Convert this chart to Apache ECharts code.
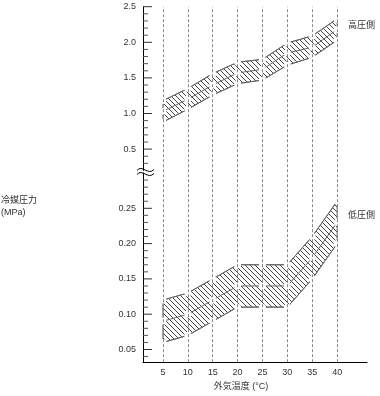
<!DOCTYPE html>
<html>
<head>
<meta charset="utf-8">
<script src="https://cdn.jsdelivr.net/npm/echarts@6/dist/echarts.min.js"></script>
<style>html,body{margin:0;padding:0;background:#fff}#c{width:380px;height:396px}</style>
</head>
<body>
<div id="c"></div>
<script>
// ---- data ----
const temps = [5, 10, 15, 20, 25, 30, 35, 40];
const highTop = [1.18, 1.35, 1.56, 1.72, 1.76, 1.99, 2.09, 2.33];
const highMid = [1.03, 1.20, 1.40, 1.57, 1.62, 1.85, 1.93, 2.18];
const highLow = [0.88, 1.06, 1.26, 1.42, 1.47, 1.68, 1.79, 2.03];
const lowTop = [0.12, 0.13, 0.15, 0.17, 0.17, 0.17, 0.21, 0.26];
const lowMid = [0.09, 0.10, 0.12, 0.14, 0.14, 0.14, 0.18, 0.23];
const lowLow = [0.06, 0.07, 0.09, 0.11, 0.11, 0.11, 0.15, 0.20];
const highTicks = [0.5, 1.0, 1.5, 2.0, 2.5];
const highTickLabels = ['0.5', '1.0', '1.5', '2.0', '2.5'];
const highMinor = [0.3, 0.4, 0.6, 0.7, 0.8, 0.9, 1.1, 1.2, 1.3, 1.4, 1.6, 1.7, 1.8, 1.9, 2.1, 2.2, 2.3, 2.4];
const lowTicks = [0.05, 0.10, 0.15, 0.20, 0.25];
const lowTickLabels = ['0.05', '0.10', '0.15', '0.20', '0.25'];
const lowMinor = [0.04, 0.06, 0.07, 0.08, 0.09, 0.11, 0.12, 0.13, 0.14, 0.16, 0.17, 0.18, 0.19, 0.21, 0.22, 0.23, 0.24, 0.26, 0.27, 0.28, 0.29];
const highLabel = '高圧側';
const lowLabel = '低圧側';
const yTitle = '冷媒圧力\n(MPa)';
const xTitle = '外気温度 (°C)';

// ---- hatch pattern (crisp 1px diagonal "\") ----
const tile = document.createElement('canvas');
tile.width = 5; tile.height = 5;
const tc = tile.getContext('2d');
tc.fillStyle = '#444';
for (let i = 0; i < 5; i++) tc.fillRect(i, i, 1, 1);
const hatch = { image: tile, repeat: 'repeat' };

const FONT = "'Liberation Sans', 'Noto Sans CJK JP', sans-serif";
const XMIN = 1, XMAX = 46;
const LEFT = 143, WIDTH = 224;
const HTOP = 6.7, HPX = 71.2;
const LTOP = 208.3, LPX = 706;
const HMAXV = 2.5, LMAXV = 0.25;
const H_MIN = 0.2, L_MAX = 0.3, L_MIN = 0.032;
function hy(v) { return HTOP + (HMAXV - v) * HPX; }
function ly(v) { return LTOP + (LMAXV - v) * LPX; }
function zip(a) { return temps.map((t, i) => [t, a[i]]); }

function band(top, low, gi) {
  return {
    type: 'custom', xAxisIndex: gi, yAxisIndex: gi, coordinateSystem: 'cartesian2d',
    data: [[temps[0], low[0]]], silent: true, z: 2,
    renderItem: function (params, api) {
      const pts = [];
      temps.forEach((t, i) => pts.push(api.coord([t, top[i]])));
      for (let i = temps.length - 1; i >= 0; i--) pts.push(api.coord([temps[i], low[i]]));
      return { type: 'polygon', shape: { points: pts }, style: { fill: hatch, stroke: '#666', lineWidth: 1 } };
    }
  };
}
function line(arr, gi) {
  return {
    type: 'line', xAxisIndex: gi, yAxisIndex: gi, data: zip(arr),
    symbol: 'emptyCircle', symbolSize: 5, showSymbol: true, z: 3,
    lineStyle: { color: '#666', width: 1 },
    itemStyle: { color: '#fff', borderColor: '#555', borderWidth: 1 },
    silent: true, animation: false
  };
}
function ticks(vals, gi, len, color) {
  return {
    type: 'scatter', xAxisIndex: gi, yAxisIndex: gi, clip: false, silent: true, z: 5,
    data: vals.map(v => [XMIN, v]),
    symbol: 'rect', symbolSize: [len, 1], symbolOffset: [len / 2, 0],
    itemStyle: { color: color, opacity: 1 }, animation: false
  };
}
function hiddenX(gi) { return { type: 'value', gridIndex: gi, min: XMIN, max: XMAX, show: false }; }
function labelAxis(gi, ticksArr, labels) {
  return {
    type: 'value', gridIndex: gi, min: ticksArr[0], max: ticksArr[ticksArr.length - 1],
    interval: ticksArr[1] - ticksArr[0], position: 'left',
    axisLine: { show: false }, axisTick: { show: false }, splitLine: { show: false },
    axisLabel: {
      show: true, margin: 7, fontSize: 9, color: '#333', fontFamily: FONT,
      formatter: function (v) {
        for (let i = 0; i < ticksArr.length; i++) if (Math.abs(ticksArr[i] - v) < 1e-6) return labels[i];
        return '';
      }
    }
  };
}
function lineAxis(gi, min, max) {
  return {
    type: 'value', gridIndex: gi, min: min, max: max, position: 'left',
    axisLine: { show: true, lineStyle: { color: '#000', width: 1 } },
    axisTick: { show: false }, axisLabel: { show: false }, splitLine: { show: false }
  };
}
const grids = [
  { top: hy(HMAXV), bottom0: hy(H_MIN) },
  { top: ly(L_MAX), bottom0: ly(L_MIN) },
  { top: hy(HMAXV), bottom0: ly(L_MIN) },
  { top: hy(highTicks[highTicks.length - 1]), bottom0: hy(highTicks[0]) },
  { top: ly(lowTicks[lowTicks.length - 1]), bottom0: ly(lowTicks[0]) }
].map(g => ({ left: LEFT, width: WIDTH, top: g.top, height: g.bottom0 - g.top }));

const chart = echarts.init(document.getElementById('c'), null, { renderer: 'canvas' });
chart.setOption({
  animation: false,
  grid: grids,
  xAxis: [
    hiddenX(0),
    {
      type: 'value', gridIndex: 1, min: XMIN, max: XMAX,
      axisLine: { show: true, onZero: false, lineStyle: { color: '#000', width: 1 } },
      axisTick: { show: false },
      axisLabel: { show: true, customValues: temps, margin: 6, fontSize: 9, color: '#333', fontFamily: FONT },
      splitLine: { show: false }
    },
    hiddenX(2), hiddenX(3), hiddenX(4)
  ],
  yAxis: [
    lineAxis(0, H_MIN, HMAXV),
    lineAxis(1, L_MIN, L_MAX),
    { type: 'value', gridIndex: 2, min: 0, max: 1, show: false },
    labelAxis(3, highTicks, highTickLabels),
    labelAxis(4, lowTicks, lowTickLabels)
  ],
  series: [
    {
      type: 'line', xAxisIndex: 2, yAxisIndex: 2, data: [], z: 1, silent: true,
      markLine: {
        silent: true, symbol: 'none', animation: false, label: { show: false },
        lineStyle: { color: '#888', type: [3, 2], width: 1 },
        data: temps.map(t => ({ xAxis: t }))
      }
    },
    band(highTop, highLow, 0),
    line(highTop, 0), line(highMid, 0), line(highLow, 0),
    band(lowTop, lowLow, 1),
    line(lowTop, 1), line(lowMid, 1), line(lowLow, 1),
    ticks(highTicks, 0, 9, '#333'), ticks(highMinor, 0, 5, '#555'),
    ticks(lowTicks, 1, 9, '#333'), ticks(lowMinor, 1, 5, '#555')
  ],
  graphic: [
    { type: 'bezierCurve', z: 10, shape: { x1: 137, y1: 170.5, cpx1: 142, cpy1: 164, cpx2: 148, cpy2: 176, x2: 154, y2: 169.5 }, style: { stroke: '#000', lineWidth: 1, fill: null } },
    { type: 'bezierCurve', z: 10, shape: { x1: 137, y1: 174.5, cpx1: 142, cpy1: 168, cpx2: 148, cpy2: 180, x2: 154, y2: 173.5 }, style: { stroke: '#000', lineWidth: 1, fill: null } },
    { type: 'text', left: 348, top: 21, style: { text: highLabel, fontSize: 9, fill: '#333', fontFamily: FONT } },
    { type: 'text', left: 348, top: 211, style: { text: lowLabel, fontSize: 9, fill: '#333', fontFamily: FONT } },
    { type: 'text', left: 1, top: 195, style: { text: yTitle, fontSize: 9, lineHeight: 12, fill: '#333', fontFamily: FONT } },
    { type: 'text', x: 241, y: 387, style: { text: xTitle, fontSize: 9, fill: '#333', fontFamily: FONT, align: 'center', verticalAlign: 'middle' } }
  ]
});
</script>
</body>
</html>
